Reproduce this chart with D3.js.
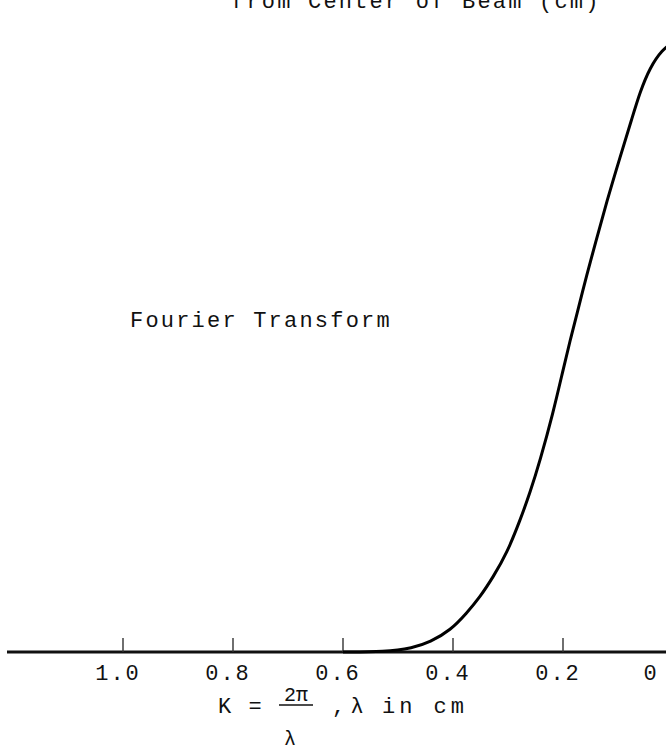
<!DOCTYPE html>
<html><head><meta charset="utf-8">
<script src="https://cdn.jsdelivr.net/npm/d3@7"></script>
<style>body{margin:0;background:#fff}svg{display:block}text{font-family:"Liberation Mono","DejaVu Sans Mono",monospace;fill:#111}</style>
</head><body><svg id="c" width="666" height="751"></svg>
<script>
const kValues = [0.60, 0.524, 0.473, 0.442, 0.404, 0.375, 0.351, 0.327, 0.302, 0.278, 0.260, 0.242, 0.218, 0.200, 0.187, 0.175, 0.156, 0.142, 0.120, 0.096, 0.0745, 0.060, 0.042, 0.020, 0.0];
const transform = [0, 0, 0.0066, 0.016, 0.036, 0.064, 0.090, 0.123, 0.162, 0.216, 0.261, 0.313, 0.392, 0.462, 0.511, 0.553, 0.621, 0.667, 0.740, 0.812, 0.875, 0.918, 0.958, 0.987, 1.0];
const tickValues = [1.0, 0.8, 0.6, 0.4, 0.2];
const tickLabels = ["1.0", "0.8", "0.6", "0.4", "0.2", "0"];
const labelValues = [1.0, 0.8, 0.6, 0.4, 0.2, 0.0];

const svg = d3.select("#c");
const x = d3.scaleLinear().domain([1.0, 0]).range([123, 673]);
const y = d3.scaleLinear().domain([0, 1]).range([652, 42]);

// axis line
svg.append("line").attr("x1", 7).attr("x2", 666).attr("y1", y(0)).attr("y2", y(0))
  .attr("stroke", "#111").attr("stroke-width", 2.8);
// ticks
svg.selectAll(".tk").data(tickValues).join("line")
  .attr("x1", d => x(d)).attr("x2", d => x(d))
  .attr("y1", y(0)).attr("y2", y(0) - 14)
  .attr("stroke", "#333").attr("stroke-width", 1.4);
// tick labels
svg.selectAll(".tl").data(labelValues).join("text")
  .attr("x", d => Math.min(x(d) - 5, 651))
  .attr("y", 680).attr("text-anchor", "middle").attr("font-size", 22)
  .attr("letter-spacing", 2)
  .text((d, i) => tickLabels[i]);

// curve
const pts = kValues.map((k, i) => [k, transform[i]]);
svg.append("path").datum(pts)
  .attr("d", d3.line().x(d => x(d[0])).y(d => y(d[1])).curve(d3.curveBasis))
  .attr("fill", "none").attr("stroke", "#000").attr("stroke-width", 3);

// texts
svg.append("text").attr("x", 130).attr("y", 327).attr("font-size", 22).attr("letter-spacing", 2.2).text("Fourier Transform");
svg.append("text").attr("x", 231).attr("y", 8).attr("font-size", 22).attr("letter-spacing", 2.2).text("from Center of Beam (cm)");

// x-axis label K = 2π/λ , λ in cm
const g = svg.append("g");
g.append("text").attr("x", 218).attr("y", 713).attr("font-size", 22).attr("letter-spacing", 2).text("K =");
g.append("text").attr("x", 296).attr("y", 701).attr("text-anchor", "middle").attr("font-size", 20).text("2π");
g.append("line").attr("x1", 279).attr("x2", 313).attr("y1", 705).attr("y2", 705).attr("stroke", "#111").attr("stroke-width", 1.3);
g.append("text").attr("x", 290).attr("y", 745).attr("text-anchor", "middle").attr("font-size", 20).text("λ");
g.append("text").attr("x", 332).attr("y", 713).attr("font-size", 22).text(",");
g.append("text").attr("x", 357).attr("y", 713).attr("text-anchor", "middle").attr("font-size", 22).text("λ");
g.append("text").attr("x", 382).attr("y", 713).attr("font-size", 22).attr("letter-spacing", 4).text("in cm");
</script></body></html>
